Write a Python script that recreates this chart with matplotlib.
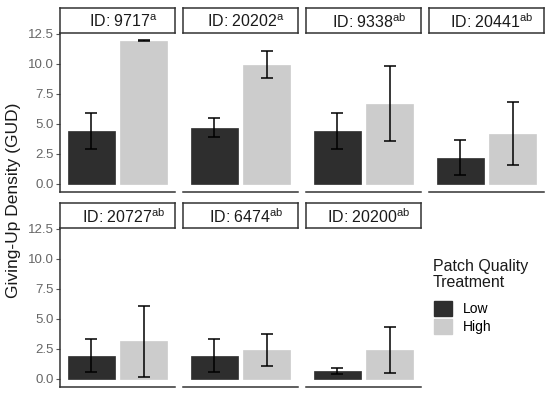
import numpy as np
import matplotlib
matplotlib.use("Agg")
import matplotlib.pyplot as plt
from matplotlib.patches import Patch

plt.rcParams["font.family"] = ["Liberation Sans", "DejaVu Sans"]
plt.rcParams["mathtext.fontset"] = "custom"
plt.rcParams["mathtext.rm"] = "Liberation Sans"
plt.rcParams["mathtext.it"] = "Liberation Sans"

# data
ids = ["9717", "20202", "9338", "20441", "20727", "6474", "20200"]
letters = ["a", "a", "ab", "ab", "ab", "ab", "ab"]
treatments = ["Low", "High"]
low_mean = [4.45, 4.7, 4.45, 2.2, 1.95, 1.95, 0.63]
low_err = [1.5, 0.77, 1.5, 1.45, 1.35, 1.35, 0.25]
high_mean = [11.95, 9.95, 6.7, 4.2, 3.15, 2.4, 2.4]
high_err = [0.05, 1.15, 3.1, 2.65, 2.95, 1.35, 1.9]
yticks = [0.0, 2.5, 5.0, 7.5, 10.0, 12.5]

colors = ["#2e2e2e", "#cccccc"]

W, H = 550, 398
fig = plt.figure(figsize=(W / 100, H / 100), dpi=100)

lefts = [60, 183, 306, 429]
pw = 115
# (panel top, panel bottom) in pixels for each row
rows = [(33, 192), (228, 387)]
strip_h = 25


def fig_rect(x0, y0, w, h):
    return [x0 / W, 1 - (y0 + h) / H, w / W, h / H]


for i, pid in enumerate(ids):
    r, c = divmod(i, 4)
    top, bot = rows[r]
    ax = fig.add_axes(fig_rect(lefts[c], top, pw, bot - top))
    x = np.arange(1, 3)
    means = [low_mean[i], high_mean[i]]
    errs = [low_err[i], high_err[i]]
    ax.bar(x, means, width=0.9, color=colors, edgecolor=colors, linewidth=0.5)
    ax.errorbar(x, means, yerr=errs, fmt="none", ecolor="black",
                elinewidth=1.1, capsize=4, capthick=1.1)
    ax.set_xlim(0.4, 2.6)
    ax.set_ylim(-0.67, 12.58)
    ax.set_yticks(yticks)
    ax.set_xticks([])
    for s in ["top", "right"]:
        ax.spines[s].set_visible(False)
    for s in ["bottom", "left"]:
        ax.spines[s].set_color("#333333")
        ax.spines[s].set_linewidth(1.1)
    if c == 0:
        ax.set_yticklabels([f"{t:.1f}" for t in yticks])
        ax.tick_params(axis="y", colors="#555555", labelsize=9.5, length=3,
                       width=0.8, pad=1.5)
        ax.tick_params(axis="y", labelcolor="#666666")
    else:
        ax.spines["left"].set_visible(False)
        ax.tick_params(axis="y", left=False, labelleft=False)

    sax = fig.add_axes(fig_rect(lefts[c], top - strip_h, pw, strip_h))
    sax.set_xticks([])
    sax.set_yticks([])
    for s in sax.spines.values():
        s.set_color("#333333")
        s.set_linewidth(1.1)
    sax.text(0.55, 0.45, f"ID: {pid}$^{{\\mathrm{{{letters[i]}}}}}$",
             ha="center", va="center", fontsize=11.5, color="#1a1a1a",
             transform=sax.transAxes)

fig.text(14 / W, 1 - 200 / H, "Giving-Up Density (GUD)", rotation=90,
         ha="center", va="center", fontsize=12.5, color="#1a1a1a")

# legend: title as its own text so the gap to the keys matches
fig.text(433 / W, 1 - 259 / H, "Patch Quality\nTreatment", ha="left",
         va="top", fontsize=11.5, color="#1a1a1a", linespacing=1.05)
handles = [Patch(facecolor=colors[k], edgecolor=colors[k]) for k in range(2)]
fig.legend(handles, treatments,
           loc="upper left", bbox_to_anchor=(434 / W, 1 - 301 / H),
           frameon=False, fontsize=10,
           handlelength=1.3, handleheight=1.3,
           handletextpad=0.8, labelspacing=0.2, borderaxespad=0,
           borderpad=0)

fig.savefig("out.png", dpi=100)
